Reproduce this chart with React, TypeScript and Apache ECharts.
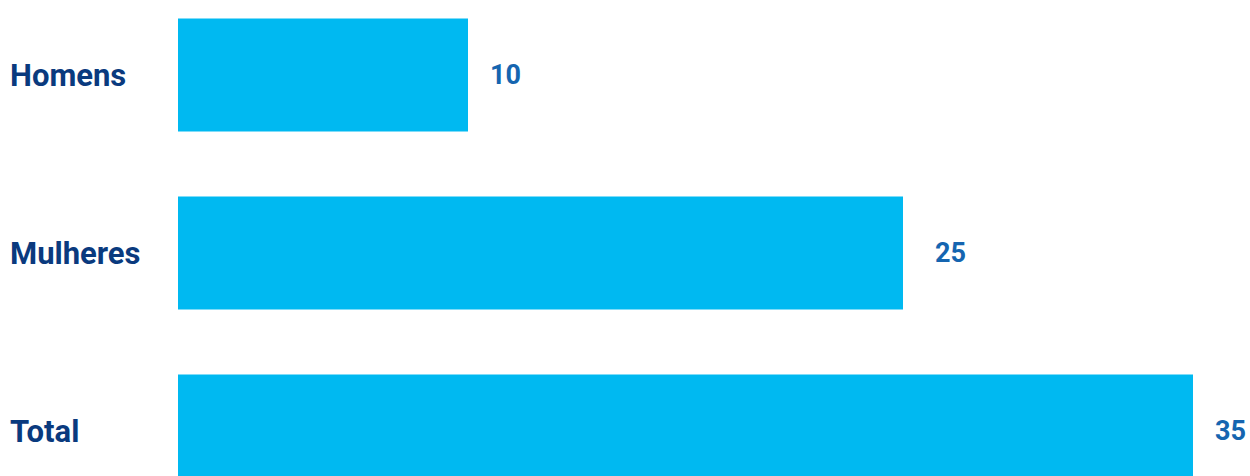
import React, { useEffect, useRef } from "react";
import * as echarts from "echarts";

const categories = ["Homens", "Mulheres", "Total"];
const values = [10, 25, 35];
const labelGaps = [22, 32, 22];

export default function App() {
  const ref = useRef<HTMLDivElement>(null);
  useEffect(() => {
    if (!ref.current) return;
    const chart = echarts.init(ref.current, null, { renderer: "svg" });
    chart.setOption({
      animation: false,
      grid: { left: 178, right: 57, top: 0, bottom: 0, containLabel: false },
      xAxis: { type: "value", min: 0, max: 35, show: false },
      yAxis: {
        type: "category",
        data: categories,
        inverse: true,
        axisLine: { show: false },
        axisTick: { show: false },
        axisLabel: {
          align: "left",
          margin: 168,
          color: "#0a3a7e",
          fontFamily: "Roboto",
          fontWeight: "bold",
          fontSize: 31,
        },
      },
      series: [
        {
          type: "bar",
          data: values.map((v, i) => ({ value: v, label: { distance: labelGaps[i] } })),
          barWidth: 113,
          itemStyle: { color: "#00b9f1" },
          label: {
            show: true,
            position: "right",
            distance: 22,
            color: "#1565b0",
            fontFamily: "Roboto",
            fontWeight: "bold",
            fontSize: 27,
          },
        },
      ],
    });
    return () => chart.dispose();
  }, []);
  return (
    <div style={{ position: "fixed", left: 0, top: 0, width: 1250, height: 476, overflow: "hidden", background: "#fff" }}>
      <div ref={ref} style={{ position: "absolute", left: 0, top: -14, width: 1250, height: 534 }} />
    </div>
  );
}
